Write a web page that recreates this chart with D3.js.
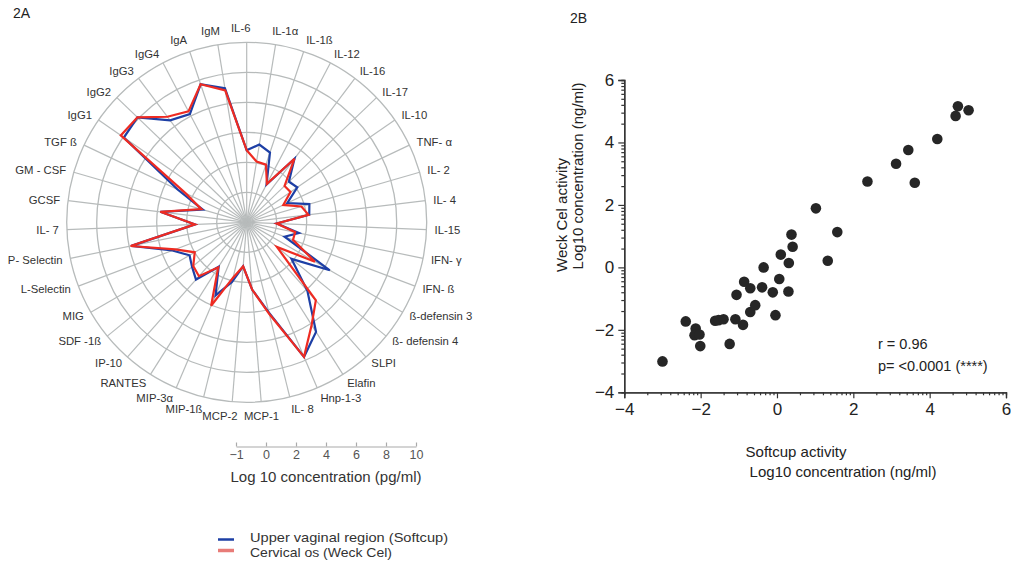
<!DOCTYPE html>
<html><head><meta charset="utf-8">
<script src="https://cdn.jsdelivr.net/npm/d3@7/dist/d3.min.js"></script>
<style>
html,body{margin:0;padding:0;background:#fff;}
text{font-family:"Liberation Sans",Arial,sans-serif;}
</style></head>
<body>
<svg id="c" width="1011" height="564"></svg>
<script>
// ---- Radar (2A) data ----
const categories = ["IL-6","IL-1α","IL-1ß","IL-12","IL-16","IL-17","IL-10","TNF- α","IL- 2","IL- 4","IL-15","IFN- γ","IFN- ß","ß-defensin 3","ß- defensin 4","SLPI","Elafin","Hnp-1-3","IL- 8","MCP-1","MCP-2","MIP-1ß","MIP-3α","RANTES","IP-10","SDF -1ß","MIG","L-Selectin","P- Selectin","IL- 7","GCSF","GM - CSF","TGF ß","IgG1","IgG2","IgG3","IgG4","IgA","IgM"];
const softcup = [2.8,3.25,2.9,0.85,3.3,1.9,2.1,1.0,2.35,2.2,0.0,1.55,0.7,4.4,1.85,4.1,6.65,7.75,4.2,2.5,0.95,2.1,3.3,1.5,3.1,2.7,2.4,3.3,5.85,1.45,3.8,1.05,3.1,7.95,8.1,6.5,6.15,7.7,7.05];
const weckcel = [2.8,2.1,2.05,0.9,3.3,1.5,1.55,0.7,1.8,2.15,0.0,1.3,1.3,3.25,0.6,4.95,6.1,7.75,4.3,2.5,0.95,1.8,4.05,1.55,2.8,2.6,2.0,3.1,5.9,1.45,3.8,1.15,2.5,8.2,8.1,6.8,6.35,7.7,6.9];
const radialTicks = [-1,0,2,4,6,8,10];
const ringValues = [0,2,4,6,8,10];
const legendLabels = ["Upper vaginal region (Softcup)","Cervical os (Weck Cel)"];

// ---- Scatter (2B) data ----
const softcupActivity = [-3.0,-2.39,-2.13,-2.16,-2.03,-2.01,-1.62,-1.53,-1.40,-1.24,-1.09,-1.06,-0.89,-0.86,-0.70,-0.70,-0.57,-0.39,-0.35,-0.11,-0.04,0.06,0.10,0.31,0.30,0.38,0.41,1.02,1.33,1.58,2.37,3.12,3.44,3.61,4.20,4.68,4.74,5.02];
const weckActivity   = [-3.01,-1.73,-1.96,-2.17,-2.15,-2.52,-1.71,-1.69,-1.66,-2.45,-1.66,-0.88,-1.84,-0.46,-0.67,-1.43,-1.21,-0.64,0.0,-0.80,-1.53,-0.37,0.41,0.14,-0.77,1.05,0.66,1.89,0.21,1.13,2.75,3.32,3.76,2.71,4.11,4.85,5.16,5.03];
const scatterTicks = [-4,-2,0,2,4,6];
const statLines = ["r = 0.96","p= <0.0001 (****)"];

const svg = d3.select("#c");
svg.append("rect").attr("width",1011).attr("height",564).attr("fill","#fff");

// ================= RADAR =================
const cx = 246.7, cy = 222.3;
const r = d3.scaleLinear().domain([-1,0,10]).range([0,30,180]);
const n = categories.length;
const ang = d3.scaleLinear().domain([0,n]).range([0,2*Math.PI]);
const gR = svg.append("g").attr("transform",`translate(${cx},${cy})`);
const gridCol = "#b7bbbb";
gR.selectAll("circle.ring").data(ringValues).join("circle")
  .attr("r",d=>r(d)).attr("fill","none").attr("stroke",gridCol).attr("stroke-width",1.3);
gR.selectAll("line.spoke").data(categories).join("line")
  .attr("x1",0).attr("y1",0)
  .attr("x2",(d,i)=>r(10)*Math.sin(ang(i))).attr("y2",(d,i)=>-r(10)*Math.cos(ang(i)))
  .attr("stroke",gridCol).attr("stroke-width",1.2);

const line = d3.lineRadial().angle((d,i)=>ang(i)).radius(d=>r(d)).curve(d3.curveLinearClosed);
const blue = "#1d3fa5", red = "#ee2b22";
gR.append("path").attr("d",line(softcup)).attr("fill","none").attr("stroke",blue).attr("stroke-width",2.2).attr("stroke-linejoin","miter");
gR.append("path").attr("d",line(weckcel)).attr("fill","none").attr("stroke",red).attr("stroke-width",2.2).attr("stroke-linejoin","miter");

// labels
const LR = 188;
gR.selectAll("text.cat").data(categories).join("text").attr("class","cat")
  .attr("text-anchor","start")
  .attr("dominant-baseline","central")
  .attr("font-size",11.3).attr("fill","#333")
  .text(d=>d)
  .each(function(d,i){
    const a = ang(i), s = Math.sin(a), c = Math.cos(a);
    const w = this.getComputedTextLength();
    const k = Math.max(-1, Math.min(1, s*4));
    const xs = LR*s - w*(0.5 - 0.5*k) - (Math.abs(s)<0.1 ? 6 : 0);
    const ys = -LR*c - 6*c*Math.pow(Math.abs(c),8);
    d3.select(this).attr("x",xs).attr("y",ys);
  });

// scale bar
const sb = d3.scaleLinear().domain([-1,0,10]).range([236,266,416]);
const gS = svg.append("g").attr("transform","translate(0,446.5)");
gS.call(d3.axisBottom(sb).tickValues(radialTicks).tickSizeInner(-4).tickSizeOuter(0).tickPadding(4).tickFormat(d3.format("d")));
gS.select(".domain").attr("stroke","#aaa").attr("stroke-width",1.2);
gS.selectAll(".tick line").attr("stroke","#aaa").attr("stroke-width",1.2);
gS.selectAll(".tick text").attr("font-size",12.5).attr("fill","#555").attr("font-family","Liberation Sans, Arial, sans-serif");
svg.append("text").attr("x",326).attr("y",482).attr("text-anchor","middle").attr("font-size",15).attr("fill","#333").text("Log 10 concentration (pg/ml)");

// legend
const lg = svg.append("g");
lg.append("line").attr("x1",218).attr("x2",234).attr("y1",539.5).attr("y2",539.5).attr("stroke",blue).attr("stroke-width",2.5);
lg.append("line").attr("x1",218).attr("x2",234).attr("y1",550.5).attr("y2",550.5).attr("stroke","#e87c78").attr("stroke-width",3.5);
lg.selectAll("text").data(legendLabels).join("text")
  .attr("x",250).attr("y",(d,i)=>541.5+i*15).attr("font-size",13.6).attr("textLength",(d,i)=>i===0?198:142).attr("lengthAdjust","spacingAndGlyphs").attr("fill","#333").text(d=>d);

svg.append("text").attr("x",13).attr("y",18).attr("font-size",14).attr("fill","#222").text("2A");

// ================= SCATTER =================
svg.append("text").attr("x",570).attr("y",23).attr("font-size",14).attr("fill","#222").text("2B");
const x = d3.scaleLinear().domain([-4,6]).range([624.3,1006]);
const y = d3.scaleLinear().domain([-4,6]).range([392.3,80]);
const minor = [];
scatterTicks.slice(0,-1).forEach(a=>{for(let k=2;k<=9;k++) minor.push(a+2*Math.log10(k));});
const axCol = "#333";
const gx = svg.append("g").attr("transform","translate(0,392.3)");
gx.call(d3.axisBottom(x).tickValues(minor).tickSize(3).tickFormat(""));
gx.call(g=>g.append("g").call(d3.axisBottom(x).tickValues(scatterTicks).tickSize(6).tickPadding(5).tickFormat(d3.format("d"))));
gx.selectAll("path.domain").attr("stroke",axCol).attr("stroke-width",1.3);
gx.selectAll(".tick line").attr("stroke",axCol).attr("stroke-width",1.2);
gx.selectAll(".tick text").attr("font-size",17).attr("fill","#222").attr("font-family","Liberation Sans, Arial, sans-serif");

const gy = svg.append("g").attr("transform","translate(624.3,0)");
gy.call(d3.axisLeft(y).tickValues(minor).tickSize(3).tickFormat(""));
gy.call(g=>g.append("g").call(d3.axisLeft(y).tickValues(scatterTicks).tickSize(6).tickPadding(4).tickFormat(d3.format("d"))));
gy.selectAll("path.domain").attr("stroke",axCol).attr("stroke-width",1.3);
gy.selectAll(".tick line").attr("stroke",axCol).attr("stroke-width",1.2);
gy.selectAll(".tick text").attr("font-size",17).attr("fill","#222").attr("font-family","Liberation Sans, Arial, sans-serif");

svg.append("g").selectAll("circle").data(softcupActivity).join("circle")
  .attr("cx",d=>x(d)).attr("cy",(d,i)=>y(weckActivity[i])).attr("r",5.3).attr("fill","#262626");

svg.selectAll("text.stat").data(statLines).join("text").attr("class","stat")
  .attr("x",878).attr("y",(d,i)=>349+i*22).attr("font-size",14.5).attr("fill","#222").text(d=>d);

svg.append("text").attr("transform","translate(567,215) rotate(-90)").attr("text-anchor","middle").attr("font-size",15).attr("fill","#222").text("Weck Cel activity");
svg.append("text").attr("transform","translate(583,176) rotate(-90)").attr("text-anchor","middle").attr("font-size",15).attr("fill","#222").text("Log10 concentration (ng/ml)");
svg.append("text").attr("x",796).attr("y",457).attr("text-anchor","middle").attr("font-size",15).attr("fill","#222").text("Softcup activity");
svg.append("text").attr("x",843).attr("y",477).attr("text-anchor","middle").attr("font-size",15).attr("fill","#222").text("Log10 concentration (ng/ml)");
</script>
</body></html>
